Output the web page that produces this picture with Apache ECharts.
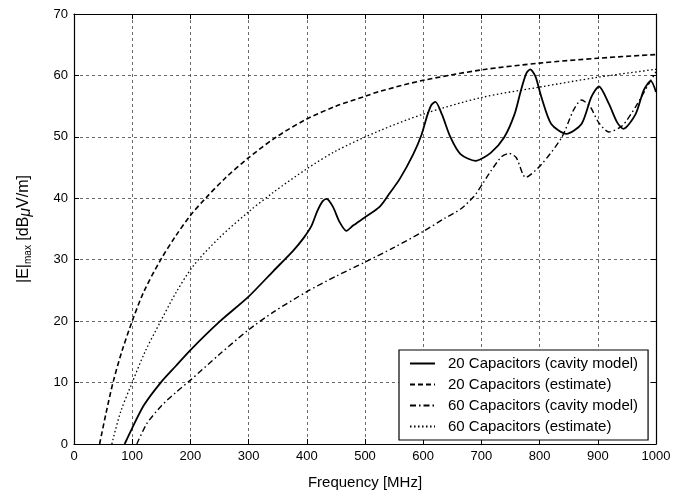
<!DOCTYPE html>
<html>
<head>
<meta charset="utf-8">
<script src="https://cdn.jsdelivr.net/npm/echarts@6/dist/echarts.min.js"></script>
<style>html,body{margin:0;padding:0;background:#fff}#c{width:683px;height:495px}</style>
</head>
<body>
<div id="c"></div>
<script>
// 20 Capacitors (cavity model)
const f20cav = [87,100,120,149,175,200,251,300,343,376,395,408,418,427,434,445,456,468,480,500,525,540,560,583,597,607,614,621,632,647,664,690,716,739,757,768,777,784,793,803,820,846,872,889,902,919,933,944,965,979,991,1000];
const v20cav = [0,2.6,6.3,10,12.7,15.3,20,24,28.2,31.4,33.6,35.5,37.9,39.5,39.9,38.6,36.2,34.7,35.6,36.9,38.6,40.5,43.2,47.2,50.3,53.5,55.2,55.7,53.7,49.9,47.2,46.1,47.4,49.9,53.7,57.6,60.3,61,59.8,56.5,52.1,50.5,52.1,56.5,58.2,55.4,52.4,51.3,53.7,57.6,59.1,57.3];
// 20 Capacitors (estimate)
const f20est = [44,55,67,82,100,120,149,175,200,226,260,300,348,400,450,500,525,600,700,800,900,1000];
const v20est = [0,5,10,15,20,24.8,30,33.9,37.2,40,43.3,46.6,50,52.9,55,56.6,57.4,59.2,60.9,62,62.8,63.4];
// 60 Capacitors (cavity model)
const f60cav = [108,125,150,175,200,250,300,343,400,450,500,550,600,638,665,687,703,716,735,748,760,776,803,838,858,872,887,901,919,942,965,988,1000];
const v60cav = [0,3.3,6.2,8.4,10.4,14.6,18.6,21.5,24.8,27.3,29.6,32,34.6,36.8,38.3,40.3,42.5,44.4,46.8,47.3,46.6,43.4,45.5,49.9,54.3,56,54.9,52.4,50.8,51.8,54.9,58.7,60.6];
// 60 Capacitors (estimate)
const f60est = [65,80,100,122,149,175,205,250,300,343,400,450,525,600,700,800,900,1000];
const v60est = [0,5.2,10,15,20,24.6,29,33.6,37.8,41,44.8,47.7,51,53.7,56.4,58.1,59.7,61];

const xTicks = [0,100,200,300,400,500,600,700,800,900,1000];
const yTicks = [0,10,20,30,40,50,60,70];

const names = ['20 Capacitors (cavity model)','20 Capacitors (estimate)','60 Capacitors (cavity model)','60 Capacitors (estimate)'];
function pairs(f, v){ return f.map((x,i)=>[x, v[i]]); }

const FONT = '"Liberation Sans", Arial, sans-serif';
const chart = echarts.init(document.getElementById('c'), null, {renderer:'canvas'});
const gridLine = {show:true, lineStyle:{color:'#444', type:[3,3], width:0.8}};
const baseAxis = {
  axisLine:{show:true, onZero:false, lineStyle:{color:'#000', width:1.2}},
  axisTick:{show:true, inside:true, length:5, lineStyle:{color:'#000', width:1}},
};
chart.setOption({
  animation:false,
  backgroundColor:'#fff',
  color:['#000','#000','#000','#000'],
  grid:{left:74, top:14, right:27, bottom:51},
  legend:{
    orient:'vertical', left:399, top:350,
    data:names,
    backgroundColor:'#fff', borderColor:'#000', borderWidth:1.2,
    padding:[6,10,6,10], itemGap:6, itemWidth:25, itemHeight:15,
    itemStyle:{opacity:0},
    textStyle:{fontFamily:FONT, fontSize:15, color:'#000', padding:[0,0,0,8]}
  },
  xAxis:[
    Object.assign({}, baseAxis, {
      type:'value', min:0, max:1000, interval:100, position:'bottom',
      axisLabel:{fontFamily:FONT, fontSize:13, color:'#000', margin:6, formatter:v=>String(v)},
      splitLine:gridLine,
      name:'Frequency [MHz]', nameLocation:'middle', nameGap:31,
      nameTextStyle:{fontFamily:FONT, fontSize:15, color:'#000'}
    }),
    Object.assign({}, baseAxis, {
      type:'value', min:0, max:1000, interval:100, position:'top',
      axisLabel:{show:false}, splitLine:{show:false}
    })
  ],
  yAxis:[
    Object.assign({}, baseAxis, {
      type:'value', min:0, max:70, interval:10, position:'left',
      axisLabel:{fontFamily:FONT, fontSize:13, color:'#000', margin:6},
      splitLine:gridLine,
      name:'{a||E|}{s|max}{a| [dB}{m|μ}{a|V/m]}', nameLocation:'middle', nameGap:40,
      nameTextStyle:{
        fontFamily:FONT, color:'#000',
        rich:{
          a:{fontFamily:FONT, fontSize:16, color:'#000'},
          s:{fontFamily:FONT, fontSize:10, color:'#000', padding:[8,0,0,0]},
          m:{fontFamily:FONT, fontSize:16, fontStyle:'italic', color:'#000', padding:[4,0,0,0]}
        }
      }
    }),
    Object.assign({}, baseAxis, {
      type:'value', min:0, max:70, interval:10, position:'right',
      axisLabel:{show:false}, splitLine:{show:false}
    })
  ],
  series:[
    {name:names[0], type:'line', data:pairs(f20cav,v20cav), symbol:'none', smooth:0.25,
     itemStyle:{color:'#000'}, lineStyle:{color:'#000', width:1.8, type:'solid'}, z:5},
    {name:names[1], type:'line', data:pairs(f20est,v20est), symbol:'none', smooth:0.3,
     itemStyle:{color:'#000'}, lineStyle:{color:'#000', width:1.6, type:[5,3]}, z:4},
    {name:names[2], type:'line', data:pairs(f60cav,v60cav), symbol:'none', smooth:0.25,
     itemStyle:{color:'#000'}, lineStyle:{color:'#000', width:1.4, type:[6,3,1.5,3]}, z:4},
    {name:names[3], type:'line', data:pairs(f60est,v60est), symbol:'none', smooth:0.3,
     itemStyle:{color:'#000'}, lineStyle:{color:'#000', width:1.3, type:[1.5,2.5]}, z:4}
  ]
});
</script>
</body>
</html>
